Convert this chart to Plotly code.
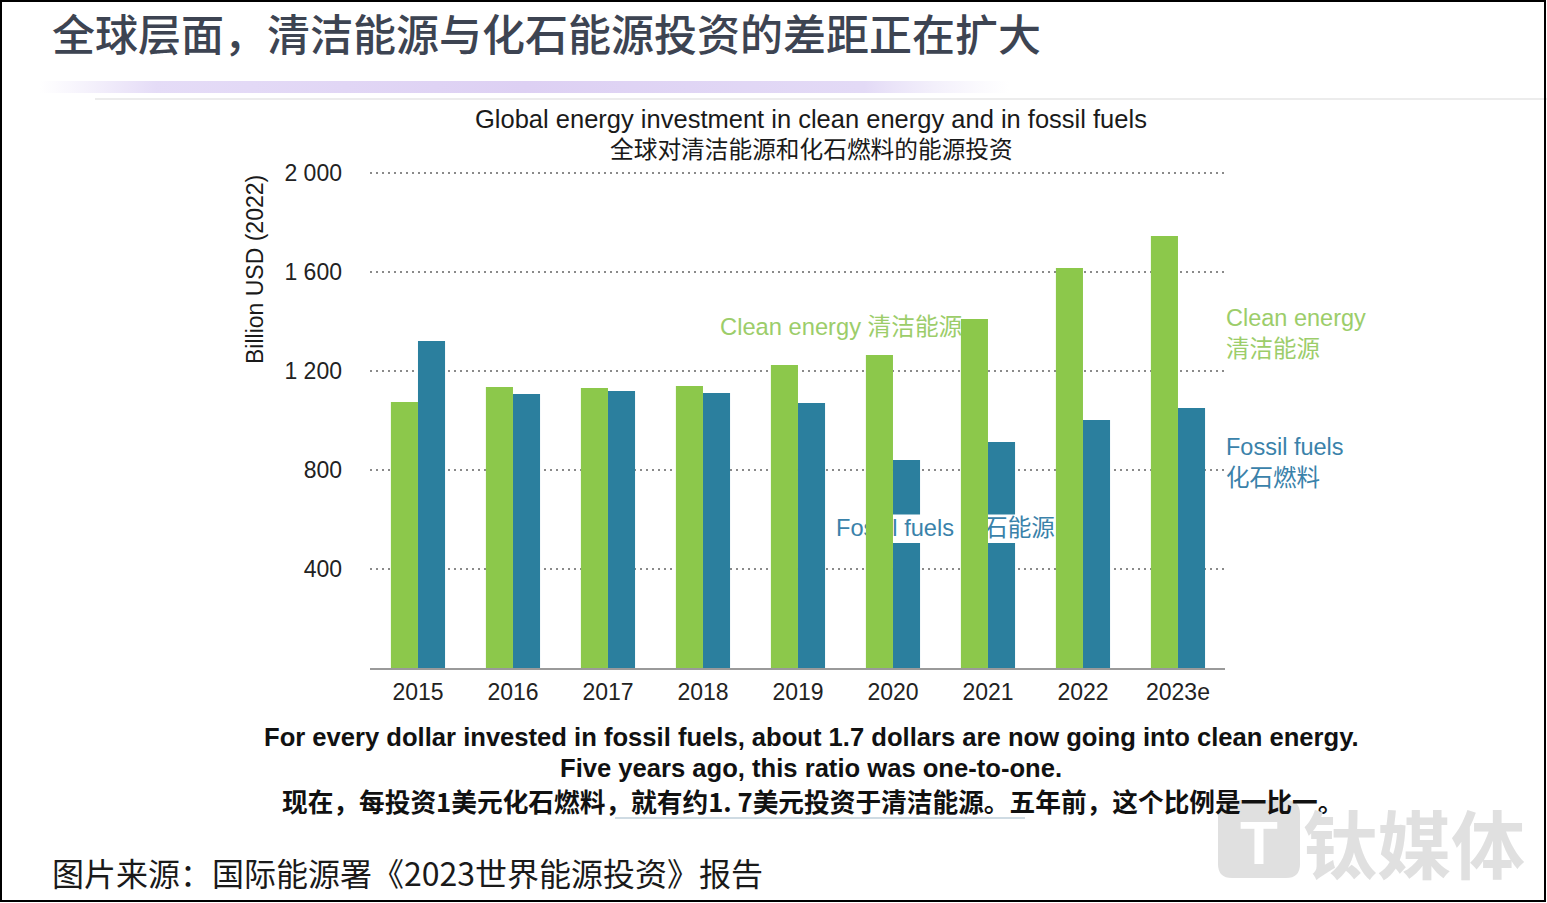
import base64
import plotly.graph_objects as go

# ---------------- data ----------------
years = ["2015", "2016", "2017", "2018", "2019", "2020", "2021", "2022", "2023e"]
clean_energy = [1075, 1135, 1131, 1139, 1224, 1265, 1410, 1616, 1745]
fossil_fuels = [1321, 1107, 1119, 1111, 1071, 840, 913, 1002, 1050]
y_tick_vals = [400, 800, 1200, 1600, 2000]
y_tick_text = ["400", "800", "1 200", "1 600", "2 000"]

# ---------------- geometry ----------------
W, H = 1547, 903
ML, MR, MT, MB = 370, 322, 170, 235
PW, PH = W - ML - MR, H - MT - MB


def fx(px):
    return (px - ML) / PW


def fy(py):
    return (H - MB - py) / PH


LAT = "Liberation Sans, Arial, Noto Sans CJK SC"
CJK = "Noto Sans CJK SC, Liberation Sans"
GREEN = "#8cc84b"
TEAL = "#2b7f9e"
GREEN_TXT = "#9ccd6a"
TEAL_TXT = "#3a82aa"

idx = list(range(len(years)))
BW = 0.285
XR = [-0.505, 8.495]
YR = [0, 2012]

fig = go.Figure()

# fossil fuel bars (main subplot)
fig.add_trace(go.Bar(x=idx, y=fossil_fuels, offset=0, width=BW,
                     marker=dict(color=TEAL, line=dict(width=0)),
                     name="Fossil fuels", showlegend=False))

# in-plot label for fossil fuels with white box (drawn above fossil bars, below clean bars)
lab_x0, lab_x1 = 4.38, 6.78
lab_y0, lab_y1 = 505, 620
fig.add_trace(go.Scatter(x=[lab_x0, lab_x1, lab_x1, lab_x0, lab_x0],
                         y=[lab_y0, lab_y0, lab_y1, lab_y1, lab_y0],
                         fill="toself", fillcolor="white", mode="lines",
                         line=dict(width=0, color="white"), hoverinfo="skip",
                         showlegend=False))
fig.add_trace(go.Scatter(x=[4.40], y=[557], mode="text",
                         text=["Fossil fuels 化石能源"], textposition="middle right",
                         textfont=dict(family=LAT, size=23.6, color=TEAL_TXT),
                         cliponaxis=False, hoverinfo="skip", showlegend=False))
fig.add_trace(go.Scatter(x=[3.18], y=[1370], mode="text",
                         text=["Clean energy 清洁能源"], textposition="middle right",
                         textfont=dict(family=LAT, size=23.7, color=GREEN_TXT),
                         cliponaxis=False, hoverinfo="skip", showlegend=False))

# clean energy bars (overlay subplot, on top)
fig.add_trace(go.Bar(x=idx, y=clean_energy, offset=-BW, width=BW,
                     marker=dict(color=GREEN, line=dict(width=0)),
                     name="Clean energy", showlegend=False,
                     xaxis="x2", yaxis="y2"))

fig.update_layout(
    width=W, height=H,
    margin=dict(l=ML, r=MR, t=MT, b=MB, pad=0),
    paper_bgcolor="white", plot_bgcolor="white",
    showlegend=False,
    xaxis=dict(range=XR, tickmode="array", tickvals=idx, ticktext=years,
               showgrid=False, zeroline=False, showline=True,
               linecolor="#9a9a9a", linewidth=2, ticks="",
               tickfont=dict(family=LAT, size=23, color="#222222"),
               ticklabelstandoff=2, fixedrange=True),
    yaxis=dict(range=YR, tickmode="array", tickvals=y_tick_vals, ticktext=y_tick_text,
               showgrid=True, gridcolor="#8a8a8a", gridwidth=2, griddash="2px,4px",
               zeroline=False, showline=False, ticks="",
               tickfont=dict(family=LAT, size=23, color="#222222"),
               ticklabelstandoff=27, fixedrange=True),
    xaxis2=dict(range=XR, overlaying="x", visible=False, fixedrange=True),
    yaxis2=dict(range=YR, overlaying="y", visible=False, fixedrange=True),
)

ann = []


def add_text(text, px, py, size, color, family, xanchor="center", yanchor="middle",
             angle=0, weight="normal", align="center"):
    ann.append(dict(text=text, x=fx(px), y=fy(py), xref="paper", yref="paper",
                    xanchor=xanchor, yanchor=yanchor, showarrow=False, textangle=angle,
                    align=align,
                    font=dict(family=family, size=size, color=color, weight=weight)))


add_text("全球层面，清洁能源与化石能源投资的差距正在扩大", 50, 32, 43, "#3d4452", CJK,
         xanchor="left", weight=500)
add_text("Global energy investment in clean energy and in fossil fuels", 811, 119, 25.5,
         "#1a1a1a", LAT)
add_text("全球对清洁能源和化石燃料的能源投资", 811, 148, 23.7, "#1a1a1a", CJK)
add_text("Billion USD (2022)", 255, 270, 23, "#1a1a1a", LAT, angle=-90)
add_text("Clean energy<br>清洁能源", 1224, 333, 23.5, GREEN_TXT, LAT, xanchor="left",
         align="left")
add_text("Fossil fuels<br>化石燃料", 1224, 462, 23.5, TEAL_TXT, LAT, xanchor="left",
         align="left")
add_text("For every dollar invested in fossil fuels, about 1.7 dollars are now going into clean energy.",
         811, 737, 25.6, "#111111", LAT, weight="bold")
add_text("Five years ago, this ratio was one-to-one.", 811, 768, 25.6, "#111111", LAT,
         weight="bold")
add_text("现在，每投资1美元化石燃料，就有约1. 7美元投资于清洁能源。五年前，这个比例是一比一。",
         812, 800, 25.7, "#111111", CJK, weight="bold")
add_text("图片来源：国际能源署《2023世界能源投资》报告", 50, 872, 32, "#1a1a1a", CJK,
         xanchor="left")
# watermark
add_text("钛媒体", 1414, 840, 74, "#e0e0e0", CJK, weight="bold")
add_text("T", 1259, 842, 62, "white", LAT, weight="bold")

fig.update_layout(annotations=ann)

shapes = []
# light gray rule
shapes.append(dict(type="line", xref="paper", yref="paper", x0=fx(95), x1=fx(1547),
                   y0=fy(99), y1=fy(99), line=dict(color="#ececec", width=2)))
# small rule under Chinese note
shapes.append(dict(type="line", xref="paper", yref="paper", x0=fx(615), x1=fx(1025),
                   y0=fy(818), y1=fy(818), line=dict(color="#cfdbe3", width=2)))
# watermark logo square
lx0, lx1, ly0, ly1, r = fx(1218), fx(1300), fy(878), fy(800), 14
rx, ry = r / PW, r / PH
path = (f"M {lx0+rx},{ly0} L {lx1-rx},{ly0} Q {lx1},{ly0} {lx1},{ly0+ry} "
        f"L {lx1},{ly1-ry} Q {lx1},{ly1} {lx1-rx},{ly1} L {lx0+rx},{ly1} "
        f"Q {lx0},{ly1} {lx0},{ly1-ry} L {lx0},{ly0+ry} Q {lx0},{ly0} {lx0+rx},{ly0} Z")
shapes.append(dict(type="path", xref="paper", yref="paper", path=path,
                   fillcolor="#e0e0e0", line=dict(width=0), layer="below"))
# outer black frame
shapes.append(dict(type="rect", xref="paper", yref="paper", x0=fx(1), x1=fx(1545),
                   y0=fy(901), y1=fy(1), line=dict(color="black", width=2)))
fig.update_layout(shapes=shapes)

# purple gradient band
svg = ('<svg xmlns="http://www.w3.org/2000/svg" width="1000" height="20" preserveAspectRatio="none">'
       '<defs><linearGradient id="g" x1="0" y1="0" x2="1" y2="0">'
       '<stop offset="0" stop-color="#e4dcf6" stop-opacity="0"/>'
       '<stop offset="0.12" stop-color="#e2d8f6" stop-opacity="0.9"/>'
       '<stop offset="0.5" stop-color="#ddd0f3" stop-opacity="1"/>'
       '<stop offset="0.85" stop-color="#e0d6f5" stop-opacity="0.9"/>'
       '<stop offset="1" stop-color="#ebe6f8" stop-opacity="0"/>'
       '</linearGradient></defs>'
       '<rect x="0" y="0" width="1000" height="20" fill="url(#g)"/></svg>')
src = "data:image/svg+xml;base64," + base64.b64encode(svg.encode()).decode()
fig.add_layout_image(dict(source=src, xref="paper", yref="paper",
                          x=fx(40), y=fy(81), sizex=fx(1010) - fx(40),
                          sizey=fy(81) - fy(93), sizing="stretch",
                          xanchor="left", yanchor="top", layer="below"))

fig.write_html("out.html", config={"displayModeBar": False},
               post_script="document.body.style.margin='0';document.body.style.overflow='hidden';")
